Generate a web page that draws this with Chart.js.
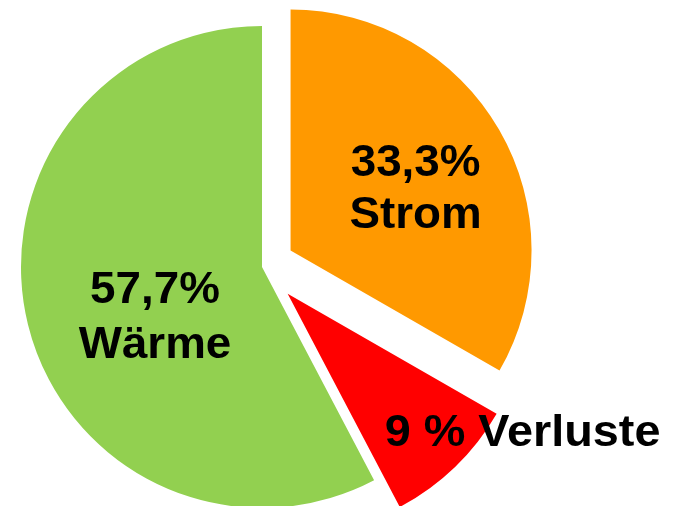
<!DOCTYPE html>
<html>
<head>
<meta charset="utf-8">
<script src="https://cdn.jsdelivr.net/npm/chart.js@4/dist/chart.umd.min.js"></script>
<style>
  html, body { margin: 0; padding: 0; background: #fff; }
  #wrap { width: 679px; height: 506px; }
</style>
</head>
<body>
<div id="wrap"><canvas id="pie"></canvas></div>
<script>
// Daten
const categories = ['Strom', 'Verluste', 'Wärme'];
const values = [33.3, 9, 57.7];
const valueLabels = ['33,3%', '9 %', '57,7%'];
const colors = ['#FF9900', '#FF0000', '#92D050'];

// Herausgezogene Segmente (Pixel) und Beschriftungspositionen relativ zum Segmentmittelpunkt
const explode = [33, 37, 0];
const labelPos = [
  { dx: 125, dy: -74, gap: 52, size: 44, align: 'center' },
  { dx: 97, dy: 152, gap: 0, size: 45, align: 'left' },
  { dx: -107, dy: 36, gap: 55, size: 44, align: 'center' }
];

const explodePlugin = {
  id: 'explode',
  afterDatasetUpdate(chart, args) {
    const meta = args.meta;
    meta.data.forEach((arc, i) => {
      const d = explode[i] || 0;
      if (!d) return;
      const mid = (arc.startAngle + arc.endAngle) / 2;
      arc.x += Math.cos(mid) * d;
      arc.y += Math.sin(mid) * d;
    });
  }
};

const labelPlugin = {
  id: 'sliceLabels',
  afterDatasetsDraw(chart) {
    const ctx = chart.ctx;
    const meta = chart.getDatasetMeta(0);
    ctx.save();
    ctx.fillStyle = '#000';
    ctx.textBaseline = 'alphabetic';
    meta.data.forEach((arc, i) => {
      const p = labelPos[i];
      ctx.save();
      ctx.translate(arc.x + p.dx, arc.y + p.dy);
      ctx.scale(1.04, 1);
      ctx.font = 'bold ' + p.size + 'px "Liberation Sans", Arial, sans-serif';
      ctx.textAlign = p.align;
      if (p.gap) {
        ctx.fillText(valueLabels[i], 0, 0);
        ctx.fillText(categories[i], 0, p.gap);
      } else {
        ctx.fillText(valueLabels[i] + ' ' + categories[i], 0, 0);
      }
      ctx.restore();
    });
    ctx.restore();
  }
};

const ctx = document.getElementById('pie').getContext('2d');
new Chart(ctx, {
  type: 'pie',
  data: {
    labels: categories,
    datasets: [{
      data: values,
      backgroundColor: colors,
      borderWidth: 0,
      radius: 241,
      clip: false
    }]
  },
  options: {
    responsive: true,
    maintainAspectRatio: false,
    animation: false,
    layout: { padding: { left: 0, right: 155, top: 28, bottom: 0 } },
    plugins: {
      legend: { display: false },
      tooltip: { enabled: false }
    },
    events: []
  },
  plugins: [explodePlugin, labelPlugin]
});
</script>
</body>
</html>
